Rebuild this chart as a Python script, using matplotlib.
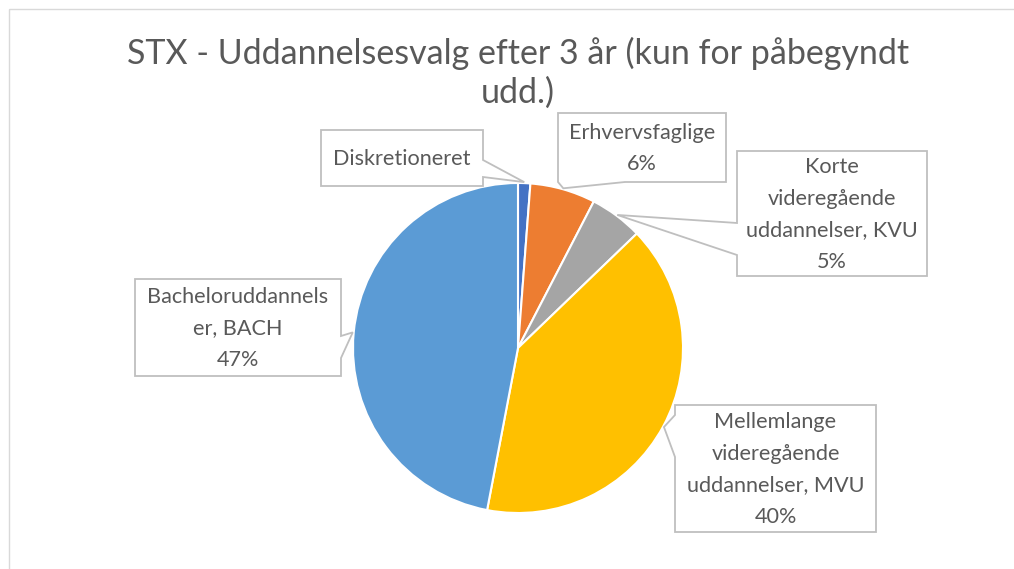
import matplotlib
matplotlib.use("Agg")
import numpy as np
import matplotlib.pyplot as plt
from matplotlib.patches import Polygon, Rectangle

# data
categories = ["Diskretioneret", "Erhvervsfaglige",
              "Korte\nvideregående\nuddannelser, KVU",
              "Mellemlange\nvideregående\nuddannelser, MVU",
              "Bacheloruddannels\ner, BACH"]
values = [1.2, 6.4, 5.2, 40.2, 47.0]
show_pct = [False, True, True, True, True]
colors = ["#4472C4", "#ED7D31", "#A5A5A5", "#FFC000", "#5B9BD5"]

TITLE = "STX - Uddannelsesvalg efter 3 år (kun for påbegyndt\nudd.)"
TEXT_COLOR = "#595959"
FONT = ["Lato", "DejaVu Sans"]

W, H = 1014, 569
CX, CY, R = 518, 348, 165

# label boxes in pixel coords: (x0, y0, x1, y1), side of pointer, pointer base (a, b)
boxes = [
    ((321, 130, 483, 186), "right", (160, 177)),
    ((558, 113, 726, 182), "bottom", (558, 625)),
    ((737, 151, 927, 276), "left", (223, 255)),
    ((675, 405, 876, 532), "left", (415, 457)),
    ((135, 279, 341, 376), "right", (336, 358)),
]


def callout(box, side, base, tip):
    x0, y0, x1, y1 = box
    a, b = base
    if side == "right":
        pts = [(x0, y0), (x1, y0), (x1, a), tip, (x1, b), (x1, y1), (x0, y1)]
    elif side == "left":
        pts = [(x0, y0), (x1, y0), (x1, y1), (x0, y1), (x0, b), tip, (x0, a)]
    else:  # bottom
        pts = [(x0, y0), (x1, y0), (x1, y1), (b, y1), tip, (a, y1), (x0, y1)]
    return pts


fig = plt.figure(figsize=(W / 100, H / 100), dpi=100)
ax = fig.add_axes([0, 0, 1, 1])

wedges, _ = ax.pie(values, colors=colors, center=(CX, CY), radius=R,
                   startangle=-90, counterclock=True,
                   wedgeprops=dict(edgecolor="white", linewidth=1.5),
                   frame=True)

ax.set_xlim(0, W)
ax.set_ylim(H, 0)
ax.set_aspect("equal")
ax.axis("off")

# chart border
ax.add_patch(Rectangle((9, 9), W, H, fill=False, edgecolor="#D9D9D9", linewidth=1))

ax.text(CX, 37, TITLE, ha="center", va="top", fontsize=24.5, color=TEXT_COLOR,
        family=FONT, linespacing=1.25)

total = sum(values)
for w, cat, v, sp, (box, side, base) in zip(wedges, categories, values, show_pct, boxes):
    mid = np.deg2rad((w.theta1 + w.theta2) / 2)
    tip = (CX + (R + 1) * np.cos(mid), CY + (R + 1) * np.sin(mid))
    poly = Polygon(callout(box, side, base, tip), closed=True, facecolor="white",
                   edgecolor="#BFBFBF", linewidth=1.3, zorder=3)
    ax.add_patch(poly)
    label = cat
    if sp:
        label += "\n%d%%" % round(v / total * 100)
    x0, y0, x1, y1 = box
    ax.text((x0 + x1) / 2, (y0 + y1) / 2 + 1, label, ha="center", va="center",
            multialignment="center", fontsize=15.6, color=TEXT_COLOR,
            family=FONT, linespacing=1.72, zorder=4)

fig.savefig("out.png", dpi=100, facecolor="white")
